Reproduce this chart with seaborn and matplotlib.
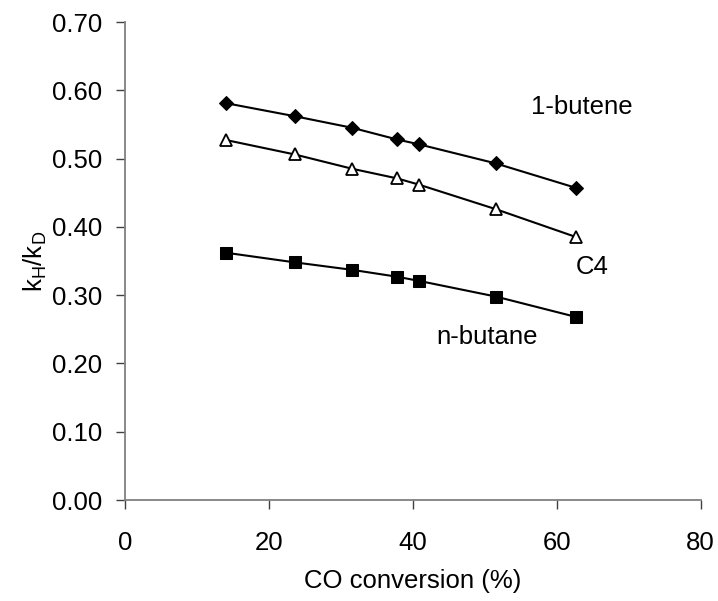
import matplotlib
matplotlib.use("Agg")
import matplotlib.pyplot as plt
import seaborn as sns
import pandas as pd

conversion = [14.1, 23.6, 31.6, 37.8, 40.8, 51.5, 62.7]
butene = [0.581, 0.562, 0.545, 0.528, 0.521, 0.493, 0.457]
c4 = [0.527, 0.506, 0.485, 0.471, 0.462, 0.426, 0.385]
butane = [0.362, 0.348, 0.337, 0.327, 0.321, 0.298, 0.268]

x_ticks = [0, 20, 40, 60, 80]
y_ticks = [0.0, 0.1, 0.2, 0.3, 0.4, 0.5, 0.6, 0.7]

sns.set_style("ticks")
plt.rcParams['font.family'] = ['Liberation Sans', 'DejaVu Sans']
plt.rcParams['mathtext.fontset'] = 'custom'
plt.rcParams['mathtext.rm'] = 'Liberation Sans'
plt.rcParams['mathtext.it'] = 'Liberation Sans'
plt.rcParams['text.color'] = 'black'
plt.rcParams['axes.labelcolor'] = 'black'

fig = plt.figure(figsize=(7.18, 6.01), dpi=100)
ax = fig.add_axes([125/718, 1-500/601, (700.7-125)/718, (500-22)/601])

df = pd.DataFrame({"x": conversion, "butene": butene, "c4": c4, "butane": butane})

sns.lineplot(data=df, x="x", y="butene", ax=ax, color="black", lw=1.5,
             marker="D", markersize=7.5, markerfacecolor="black",
             markeredgecolor="black")
sns.lineplot(data=df, x="x", y="c4", ax=ax, color="black", lw=1.5,
             marker="^", markersize=9, markerfacecolor="white",
             markeredgecolor="black", markeredgewidth=1.3)
sns.lineplot(data=df, x="x", y="butane", ax=ax, color="black", lw=1.5,
             marker="s", markersize=8, markerfacecolor="black",
             markeredgecolor="black")

ax.set_xlim(0, 80)
ax.set_ylim(0, 0.7)
ax.set_xticks(x_ticks)
ax.set_yticks(y_ticks)
ax.set_yticklabels([f"{v:.2f}" for v in y_ticks])
ax.set_xticklabels([str(v) for v in x_ticks])

for s in ["top", "right"]:
    ax.spines[s].set_visible(False)
for s in ["left", "bottom"]:
    ax.spines[s].set_color("#808080")
    ax.spines[s].set_linewidth(1.3)
ax.tick_params(axis="both", colors="#404040", labelcolor="black",
               labelsize=18.5, length=6.5, width=1)
ax.tick_params(axis="x", pad=16)
ax.tick_params(axis="y", pad=10)

ax.set_xlabel("CO conversion (%)", fontsize=18.5, labelpad=10, color="black")
ax.set_ylabel(r"k$_{\mathrm{H}}$/k$_{\mathrm{D}}$", fontsize=18.5, labelpad=2,
              color="black")

ax.text(63.5, 0.576, "1-butene", fontsize=18.5, ha="center", va="center", color="black")
ax.text(64.9, 0.341, "C4", fontsize=18.5, ha="center", va="center", color="black")
ax.text(50.3, 0.238, "n-butane", fontsize=18.5, ha="center", va="center", color="black")

fig.savefig("out.png", dpi=100)
